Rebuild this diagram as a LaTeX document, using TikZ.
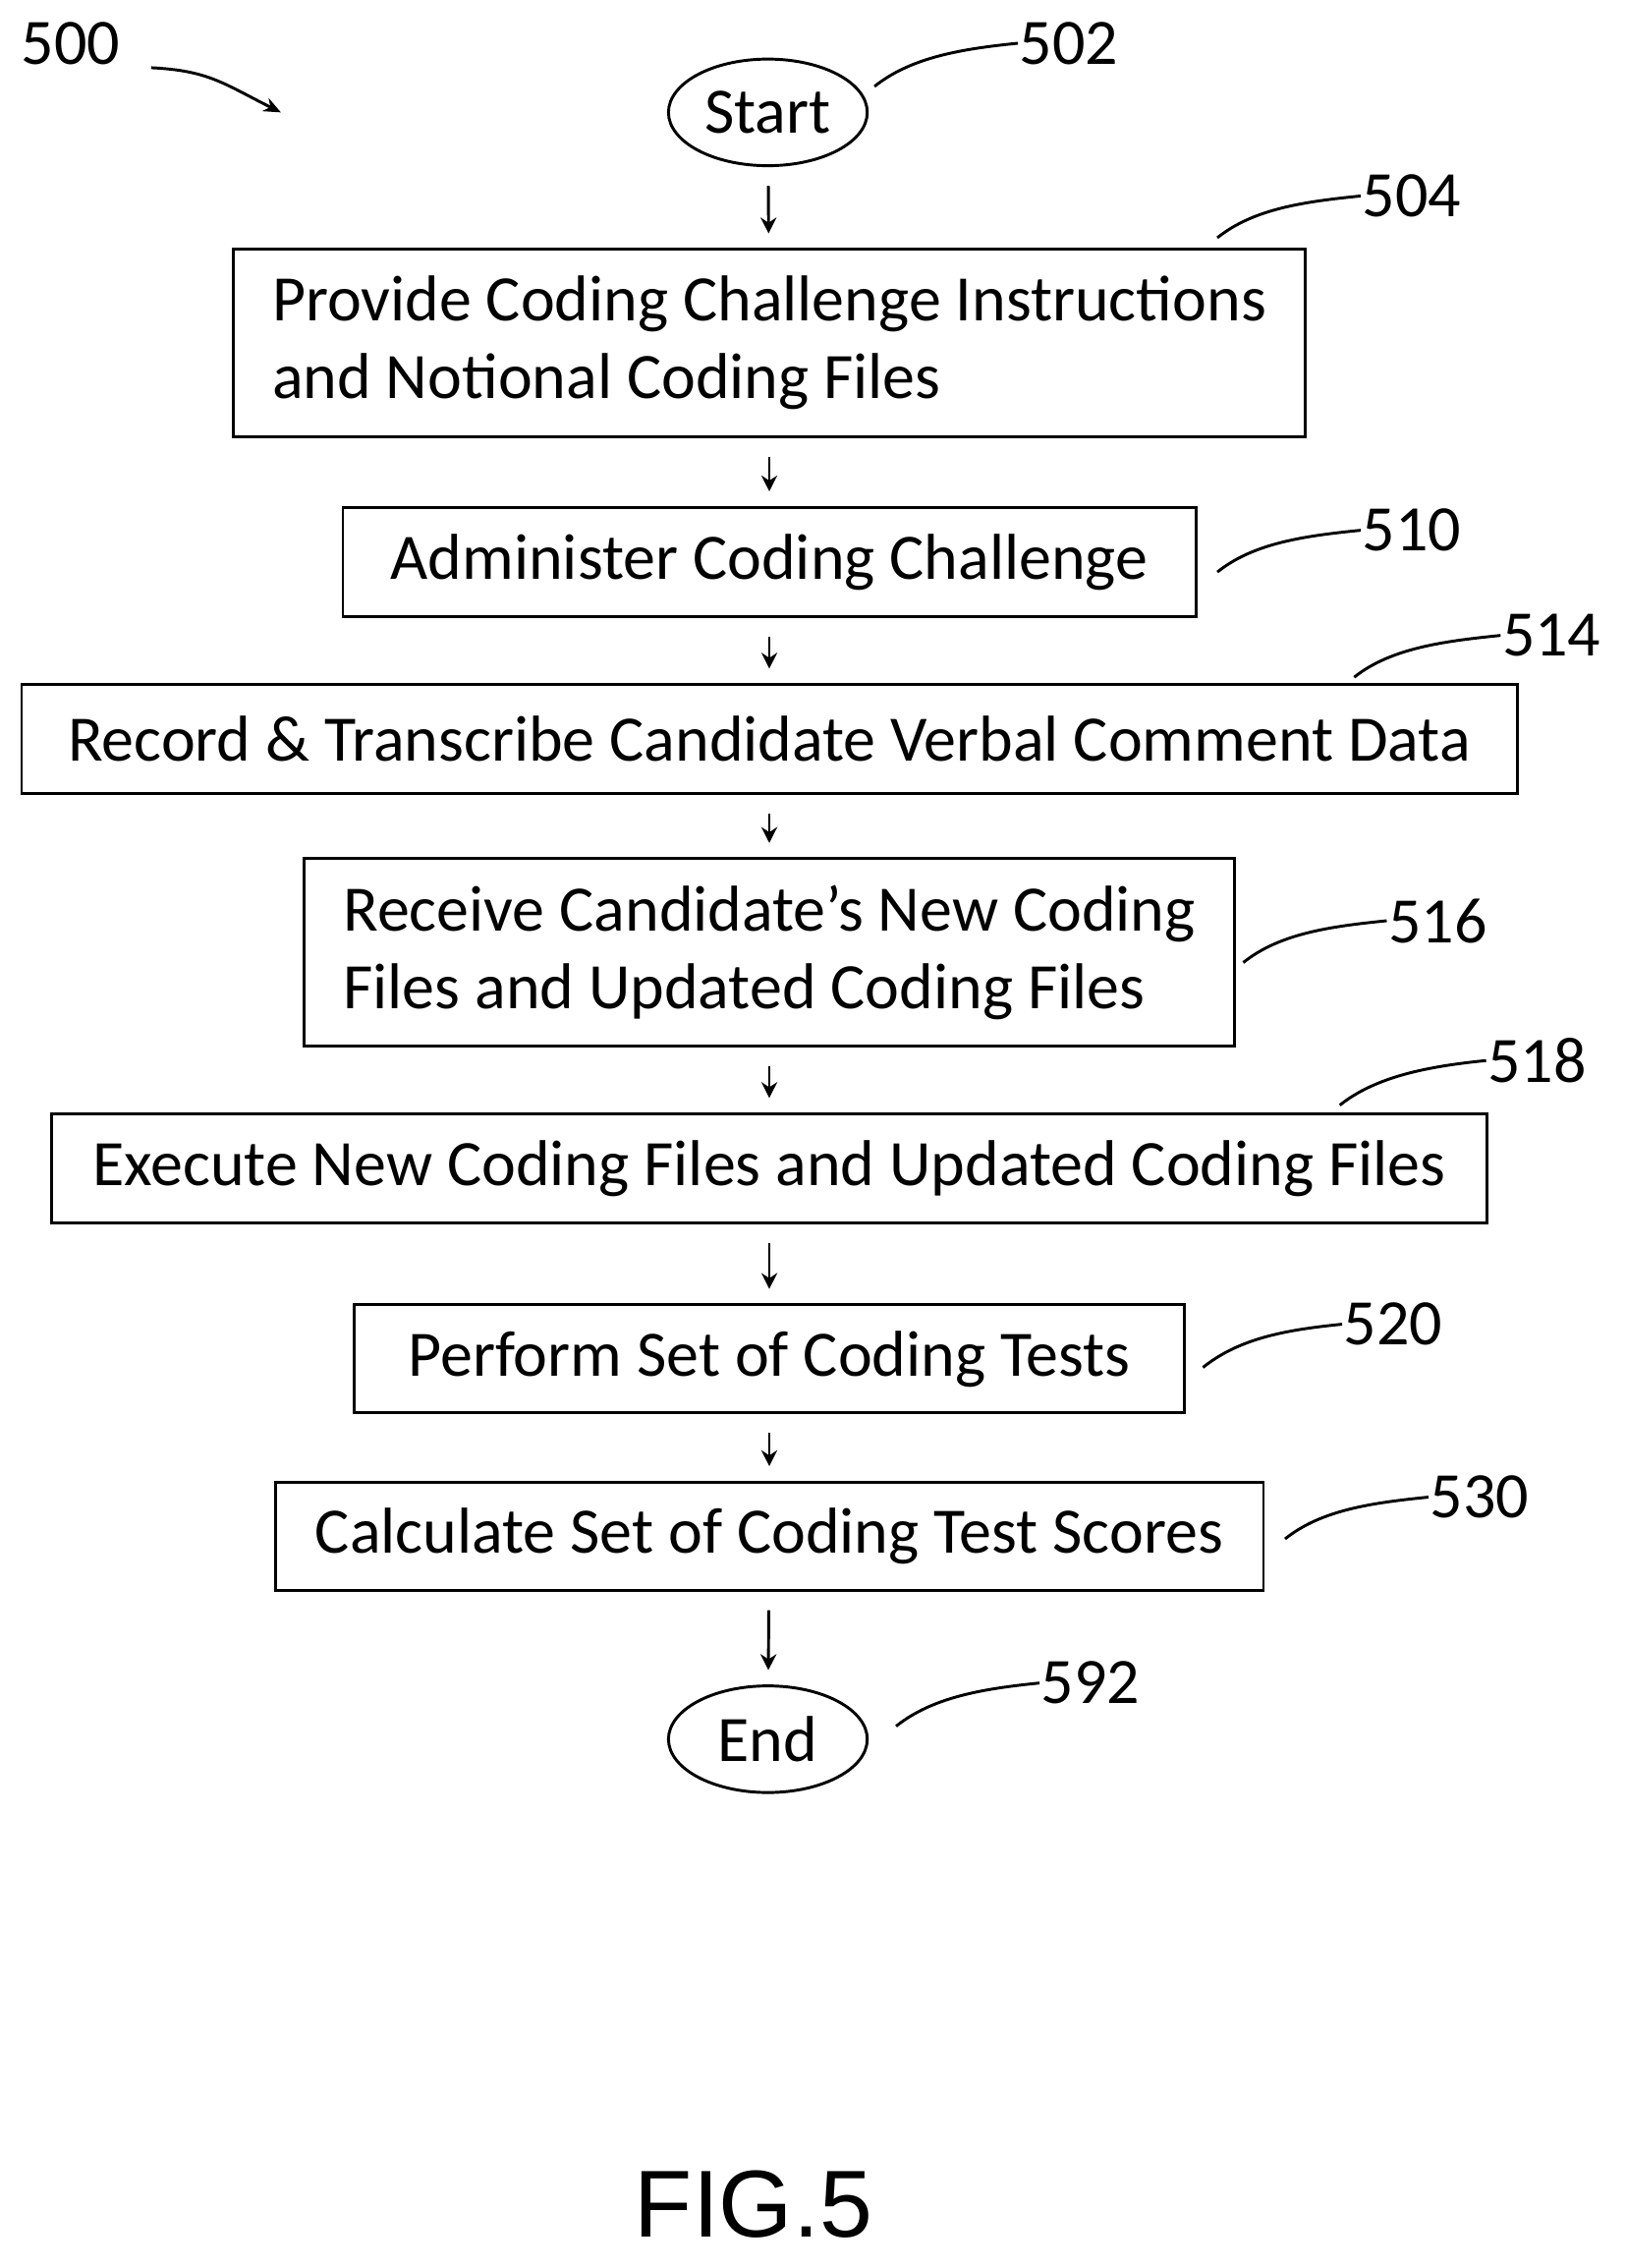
\documentclass[tikz,border=0pt]{standalone}
\usepackage{fontspec}
\setmainfont{Carlito}
\newfontfamily\figfont{Liberation Sans}
\usetikzlibrary{positioning,arrows.meta,shapes.geometric}
\tikzset{%
stepbox/.style={draw,line width=2pt,rectangle,align=left,inner sep=0pt,font=\fontsize{45}{54}\selectfont},
term/.style={draw,line width=2pt,ellipse,minimum width=138pt,minimum height=74pt,inner sep=0pt,font=\fontsize{45}{50}\selectfont},
refnum/.style={font=\fontsize{45}{50}\selectfont,inner sep=1pt},
flow/.style={-{Stealth[length=11pt,width=11pt]},line width=2pt,shorten <=13pt,shorten >=10pt},
leader/.style={line width=2pt}
}
\begin{document}
\begin{tikzpicture}[x=1pt,y=-1pt]
  \useasboundingbox (0,0) rectangle (1128,1574);

  \node[term] (start) at (533,78) {Start};
  \node[stepbox,minimum width=744pt,minimum height=130pt] (instr) at (534,238)
    {Provide Coding Challenge Instructions\\and Notional Coding Files};
  \node[stepbox,minimum width=592pt,minimum height=76pt] (admin) at (534,390)
    {Administer Coding Challenge};
  \node[stepbox,minimum width=1038pt,minimum height=76pt] (record) at (534,513)
    {Record \& Transcribe Candidate Verbal Comment Data};
  \node[stepbox,minimum width=646pt,minimum height=130pt] (receive) at (534,661)
    {Receive Candidate’s New Coding\\Files and Updated Coding Files};
  \node[stepbox,minimum width=996pt,minimum height=76pt] (execute) at (534,811)
    {Execute New Coding Files and Updated Coding Files};
  \node[stepbox,minimum width=576pt,minimum height=75pt] (tests) at (534,943)
    {Perform Set of Coding Tests};
  \node[stepbox,minimum width=686pt,minimum height=75pt] (scores) at (534,1066)
    {Calculate Set of Coding Test Scores};
  \node[term] (end) at (533,1207) {End};

  \draw[flow] (start) -- (instr);
  \draw[flow] (instr) -- (admin);
  \draw[flow] (admin) -- (record);
  \draw[flow] (record) -- (receive);
  \draw[flow] (receive) -- (execute);
  \draw[flow] (execute) -- (tests);
  \draw[flow] (tests) -- (scores);
  \draw[flow] (scores) -- (end);

  % reference numerals
  \node[refnum] (n500) at (49,30) {500};
  \node[refnum] (n502) at (742,30) {502};
  \node[refnum] (n504) at (980,136) {504};
  \node[refnum] (n510) at (980,368) {510};
  \node[refnum] (n514) at (1077,441) {514};
  \node[refnum] (n516) at (998,639) {516};
  \node[refnum] (n518) at (1067,736) {518};
  \node[refnum] (n520) at (967,919) {520};
  \node[refnum] (n530) at (1027,1039) {530};
  \node[refnum] (n592) at (757,1168) {592};

  \coordinate (a500) at (105,47);
  \coordinate (c500) at (195,78);
  \coordinate (c502) at (607,60);
  \coordinate (c504) at (845,165);
  \coordinate (c510) at (845,397);
  \coordinate (c514) at (940,470);
  \coordinate (c516) at (863,668);
  \coordinate (c518) at (930,767);
  \coordinate (c520) at (835,949);
  \coordinate (c530) at (892,1068);
  \coordinate (c592) at (622,1198);

  \draw[leader,-{Stealth[length=12pt,width=10pt]}] (a500)
    .. controls +(40,2) and +(-40,-20) .. (c500);
  \foreach \n in {502,504,510,514,516,518,520,530,592}
    \draw[leader] (c\n) .. controls +(25,-20) and +(-40,4) .. (n\n.west);

  \node[font=\figfont\fontsize{66}{70}\selectfont] (fig) at (523,1530) {FIG.5};
\end{tikzpicture}
\end{document}
